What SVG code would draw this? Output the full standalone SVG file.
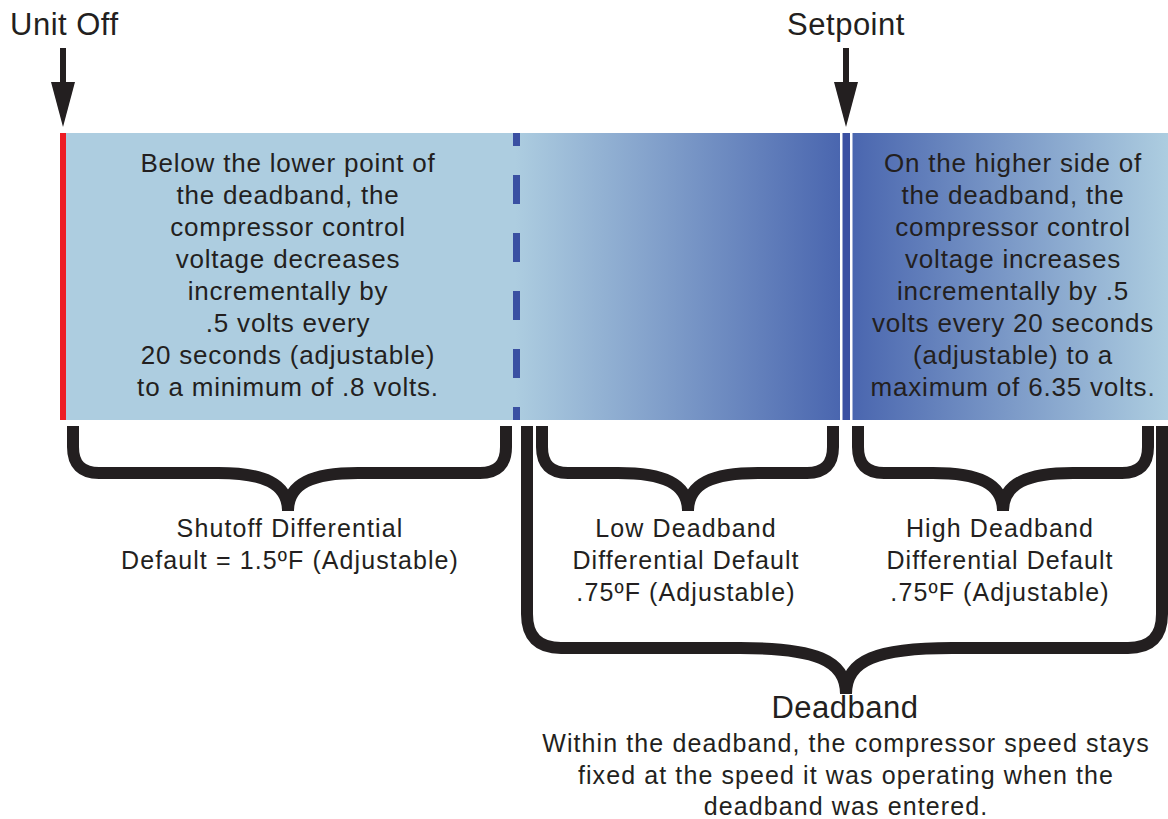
<svg xmlns="http://www.w3.org/2000/svg" width="1168" height="819" viewBox="0 0 1168 819">
<defs>
<linearGradient id="gA" gradientUnits="userSpaceOnUse" x1="515" y1="0" x2="840" y2="0">
<stop offset="0" stop-color="#ADCDE0"/>
<stop offset="1" stop-color="#4A66AF"/>
</linearGradient>
<linearGradient id="gB" gradientUnits="userSpaceOnUse" x1="852" y1="0" x2="1168" y2="0">
<stop offset="0" stop-color="#4A66AF"/>
<stop offset="1" stop-color="#ADCDE0"/>
</linearGradient>
<style>
text{font-family:"Liberation Sans",Arial,sans-serif;fill:#231F20;text-anchor:middle}
.title{font-size:31px;letter-spacing:0.5px}
.body{font-size:26px;letter-spacing:0.8px}
.lbl{font-size:25px;letter-spacing:1.1px}
.brace{fill:none;stroke:#231F20;stroke-width:12;stroke-linejoin:round}
.arrow{fill:#231F20}
</style>
</defs>
<rect width="1168" height="819" fill="#FFFFFF"/>

<g id="band">
<rect x="60" y="133" width="456" height="287" fill="#ADCDE0"/>
<rect x="515" y="133" width="326" height="287" fill="url(#gA)"/>
<rect x="840" y="133" width="3" height="287" fill="#FFFFFF"/>
<rect x="842.5" y="133" width="7.5" height="287" fill="#3A50A2"/>
<rect x="850" y="133" width="3" height="287" fill="#FFFFFF"/>
<rect x="852.5" y="133" width="315.5" height="287" fill="url(#gB)"/>
<rect x="60" y="133" width="6" height="287" fill="#ED1C24"/>
<line x1="516.5" y1="133" x2="516.5" y2="420" stroke="#3A50A2" stroke-width="7" stroke-dasharray="29 29" stroke-dashoffset="16"/>
</g>

<g id="unit-off">
<text class="title" x="10" y="35" style="text-anchor:start">Unit Off</text>
<rect x="60" y="48" width="6" height="36" class="arrow"/>
<polygon points="51,82 75,82 63,127" class="arrow"/>
</g>

<g id="setpoint">
<text class="title" x="846" y="35">Setpoint</text>
<rect x="843" y="48" width="6" height="36" class="arrow"/>
<polygon points="834,82 858,82 846,127" class="arrow"/>
</g>

<g id="below-text">
<text class="body" x="288" y="172">Below the lower point of</text>
<text class="body" x="288" y="204">the deadband, the</text>
<text class="body" x="288" y="236">compressor control</text>
<text class="body" x="288" y="268">voltage decreases</text>
<text class="body" x="288" y="300">incrementally by</text>
<text class="body" x="288" y="332">.5 volts every</text>
<text class="body" x="288" y="364">20 seconds (adjustable)</text>
<text class="body" x="288" y="396">to a minimum of .8 volts.</text>
</g>

<g id="above-text">
<text class="body" x="1013" y="172">On the higher side of</text>
<text class="body" x="1013" y="204">the deadband, the</text>
<text class="body" x="1013" y="236">compressor control</text>
<text class="body" x="1013" y="268">voltage increases</text>
<text class="body" x="1013" y="300">incrementally by .5</text>
<text class="body" x="1013" y="332">volts every 20 seconds</text>
<text class="body" x="1013" y="364">(adjustable) to a</text>
<text class="body" x="1013" y="396">maximum of 6.35 volts.</text>
</g>

<g id="connectors">
<path class="brace" d="M73 426 V447 Q73 473 99 473 H218 C263 473 288 483 288 511 M288 511 C288 483 313 473 358 473 H480 Q506 473 506 447 V426"/>
<path class="brace" d="M542 426 V447 Q542 473 568 473 H618 C663 473 688 483 688 511 M688 511 C688 483 713 473 758 473 H807 Q833 473 833 447 V426"/>
<path class="brace" d="M858 426 V447 Q858 473 884 473 H933 C978 473 1003 483 1003 511 M1003 511 C1003 483 1028 473 1073 473 H1122 Q1148 473 1148 447 V426"/>
<path class="brace" d="M527 426 V614 Q527 648 561 648 H740 C815 648 846 660 846 694 M846 694 C846 660 877 648 952 648 H1128 Q1162 648 1162 614 V426"/>
</g>

<g id="shutoff-label">
<text class="lbl" x="290" y="537">Shutoff Differential</text>
<text class="lbl" x="290" y="569">Default = 1.5ºF (Adjustable)</text>
</g>

<g id="low-label">
<text class="lbl" x="686" y="537">Low Deadband</text>
<text class="lbl" x="686" y="569">Differential Default</text>
<text class="lbl" x="686" y="601">.75ºF (Adjustable)</text>
</g>

<g id="high-label">
<text class="lbl" x="1000" y="537">High Deadband</text>
<text class="lbl" x="1000" y="569">Differential Default</text>
<text class="lbl" x="1000" y="601">.75ºF (Adjustable)</text>
</g>

<g id="deadband-label">
<text class="title" x="845" y="718">Deadband</text>
<text class="lbl" x="846" y="752">Within the deadband, the compressor speed stays</text>
<text class="lbl" x="846" y="784">fixed at the speed it was operating when the</text>
<text class="lbl" x="846" y="815">deadband was entered.</text>
</g>
</svg>
